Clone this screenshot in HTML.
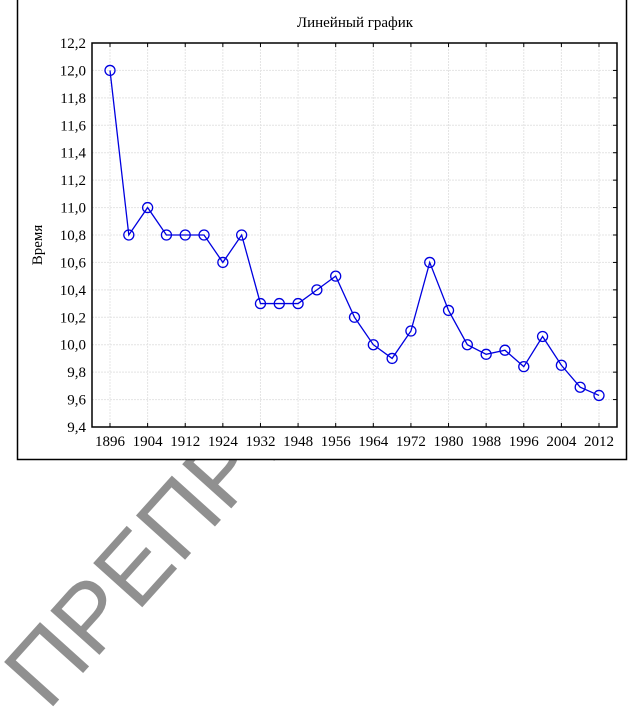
<!DOCTYPE html>
<html><head><meta charset="utf-8">
<style>
html,body{margin:0;padding:0;background:#fff;width:634px;height:713px;overflow:hidden}
svg{display:block;font-family:"Liberation Serif","Noto Serif CJK SC",serif}
</style></head>
<body>
<svg id="chart" width="634" height="713" viewBox="0 0 634 713">
  <text x="48" y="712" transform="rotate(-48 48 712)" font-family="Liberation Sans, sans-serif" font-size="96" fill="#909090">ПРЕПРИНТ</text>
  <rect x="17.5" y="-1" width="609" height="460.5" fill="#fff" stroke="#000" stroke-width="1.5"/>
  <text x="355" y="27" text-anchor="middle" font-size="15">Линейный график</text>
  <text x="0" y="0" transform="translate(42 245) rotate(-90)" text-anchor="middle" font-size="15">Время</text>
  <g id="grid"></g>
  <g id="axes"></g>
  <g id="series"></g>
</svg>
<script>
const categories=[1896,1900,1904,1908,1912,1920,1924,1928,1932,1936,1948,1952,1956,1960,1964,1968,1972,1976,1980,1984,1988,1992,1996,2000,2004,2008,2012];
const values=[12.0,10.8,11.0,10.8,10.8,10.8,10.6,10.8,10.3,10.3,10.3,10.4,10.5,10.2,10.0,9.9,10.1,10.6,10.25,10.0,9.93,9.96,9.84,10.06,9.85,9.69,9.63];
const yTicks=[9.4,9.6,9.8,10.0,10.2,10.4,10.6,10.8,11.0,11.2,11.4,11.6,11.8,12.0,12.2];
const xLabels=["1896","1904","1912","1924","1932","1948","1956","1964","1972","1980","1988","1996","2004","2012"];
const NS="http://www.w3.org/2000/svg";
const L=92,R=617,T=43,B=427,X0=110,X1=599,YMIN=9.4,YMAX=12.2;
const xs=i=>X0+(X1-X0)*i/(categories.length-1);
const ys=v=>B-(v-YMIN)/(YMAX-YMIN)*(B-T);
function mk(tag,attrs,parent){const e=document.createElementNS(NS,tag);for(const k in attrs)e.setAttribute(k,attrs[k]);parent.appendChild(e);return e;}
const grid=document.getElementById('grid'),axes=document.getElementById('axes'),ser=document.getElementById('series');
yTicks.forEach((t,i)=>{
  const y=ys(t);
  if(i>0&&i<yTicks.length-1){const g=mk('line',{x1:L,x2:R,y1:y,y2:y,stroke:'#e4e4e4','stroke-width':1,'stroke-dasharray':'2 1'},grid);
  
  }
  const tk=mk('line',{x1:R-4,x2:R,y1:y,y2:y,stroke:'#000','stroke-width':1},axes);
  
  
  const tx=mk('text',{x:86,y:y+5,'text-anchor':'end','font-size':15},axes);
  tx.textContent=t.toFixed(1).replace('.',',');
  
  
});
categories.forEach((c,i)=>{
  const x=xs(i);
  if(i%2===0){
    const g=mk('line',{x1:x,x2:x,y1:T,y2:B,stroke:'#e4e4e4','stroke-width':1,'stroke-dasharray':'2 1'},grid);
    
    
    const tk=mk('line',{x1:x,x2:x,y1:B-4,y2:B,stroke:'#000','stroke-width':1},axes);
    
    
    const tk2=mk('line',{x1:x,x2:x,y1:T,y2:T+4,stroke:'#000','stroke-width':1},axes);
    
    
    const tx=mk('text',{x:x,y:446,'text-anchor':'middle','font-size':15},axes);
    tx.textContent=xLabels[i/2];
    
    
  }
});
const frame=mk('rect',{x:L,y:T,width:R-L,height:B-T,fill:'none',stroke:'#000','stroke-width':1.5},axes);


const line=mk('polyline',{points:values.map((v,i)=>xs(i)+','+ys(v)).join(' '),fill:'none',stroke:'#0000e0','stroke-width':1.3},ser);


values.forEach((v,i)=>{
  const c=mk('circle',{cx:xs(i),cy:ys(v),r:5,fill:'none',stroke:'#0000e0','stroke-width':1.3},ser);
  
  
});
</script>
</body></html>
